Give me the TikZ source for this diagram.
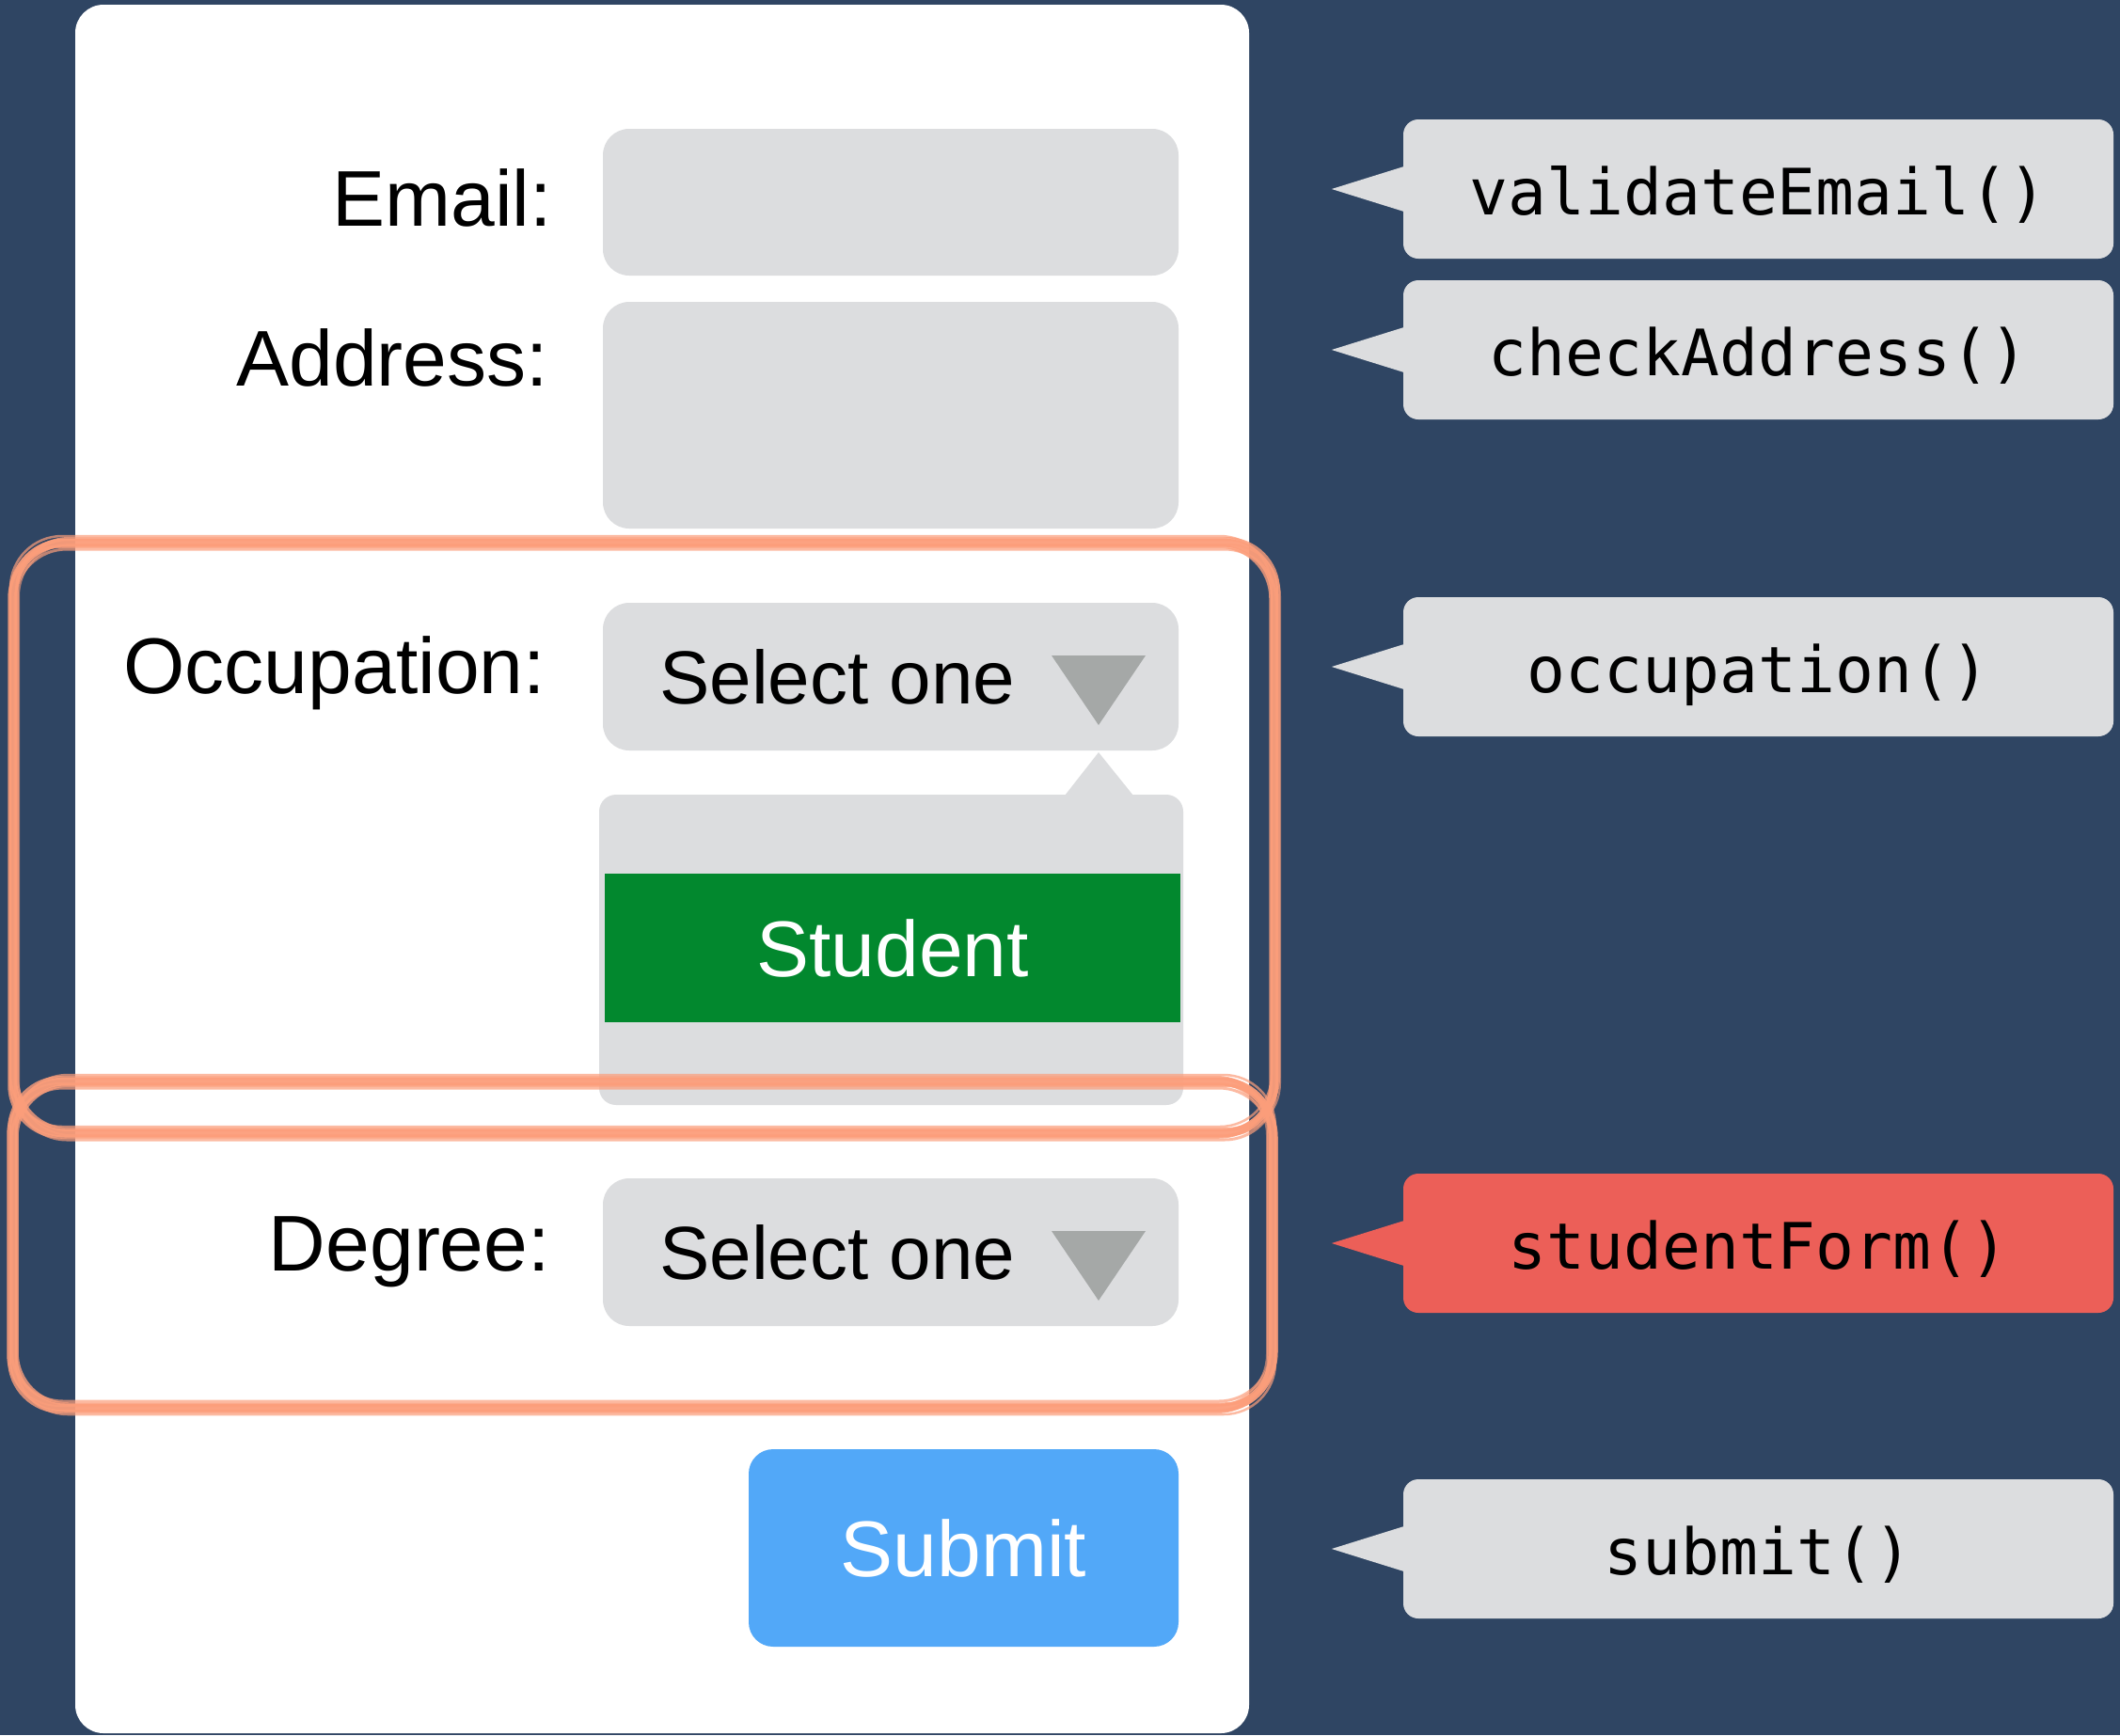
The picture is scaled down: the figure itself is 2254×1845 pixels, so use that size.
\documentclass[tikz,border=0pt]{standalone}
\usepackage{fontspec}
\usetikzlibrary{calc}
\setmainfont{Liberation Sans}
\newfontfamily\codefont{DejaVu Sans Mono}
\definecolor{navy}{HTML}{2F4563}
\definecolor{fieldgray}{HTML}{DCDDDF}
\definecolor{arrowgray}{HTML}{A5A8A7}
\definecolor{pickgreen}{HTML}{02882E}
\definecolor{btnblue}{HTML}{52A8F8}
\definecolor{tagred}{HTML}{EC5F58}
\definecolor{sketch}{HTML}{FC9E7B}
\begin{document}
\begin{tikzpicture}[x=1pt,y=-1pt,
  field/.style={fill=fieldgray, rounded corners=28pt, inner sep=0pt, minimum width=612pt},
  formlabel/.style={anchor=base east, inner sep=0pt, font=\fontsize{84}{100}\selectfont},
  fieldtext/.style={anchor=base west, inner sep=0pt, font=\fontsize{80}{100}\selectfont},
  tagbox/.style={fill=fieldgray, rounded corners=16pt, inner sep=0pt,
    minimum width=755pt, minimum height=148pt, text height=54pt, text depth=0pt,
    font=\codefont\fontsize{68}{80}\selectfont},
  sketchline/.style={draw=sketch, rounded corners=55pt, line cap=round}]

% page and background
\useasboundingbox (0,0) rectangle (2254,1845);
\fill[navy] (0,0) rectangle (2254,1845);

% form panel
\node[fill=white, rounded corners=30pt, inner sep=0pt, minimum width=1248pt,
  minimum height=1838pt] (panel) at (704,924) {};

% labels
\node[formlabel] (lemail) at (587,240) {Email:};
\node[formlabel] (laddr) at (583,410) {Address:};
\node[formlabel] (locc) at (580,737) {Occupation:};
\node[formlabel] (ldeg) at (585,1351) {Degree:};

% input fields
\node[field, minimum height=156pt] (email) at (947,215) {};
\node[field, minimum height=241pt] (addr) at (947,441.5) {};
\node[field, minimum height=157pt] (occ) at (947,719.5) {};
\node[field, minimum height=157pt] (deg) at (947,1331.5) {};

% dropdown texts and arrows
\node[fieldtext] (occtext) at (701,748) {Select one};
\node[fieldtext] (degtext) at (701,1360) {Select one};
\fill[arrowgray] (1118,697) -- (1218,697) -- (1168,771) -- cycle;
\fill[arrowgray] (1118,1309) -- (1218,1309) -- (1168,1383) -- cycle;

% open occupation list
\node[fill=fieldgray, rounded corners=18pt, inner sep=0pt, minimum width=621pt,
  minimum height=330pt] (popup) at (947.5,1010) {};
\fill[fieldgray] (1132,846) -- (1168,800) -- (1205,846) -- cycle;
\node[fill=pickgreen, inner sep=0pt, minimum width=612pt, minimum height=158pt]
  (student) at (949,1008) {};
\node[anchor=base, inner sep=0pt, text=white, font=\fontsize{84}{100}\selectfont]
  (studenttext) at (949,1038) {Student};

% submit button
\node[fill=btnblue, rounded corners=26pt, inner sep=0pt, minimum width=457pt,
  minimum height=210pt] (submit) at (1024.5,1646) {};
\node[anchor=base, inner sep=0pt, text=white, font=\fontsize{84}{100}\selectfont]
  (submittext) at (1024.5,1676) {Submit};

% hand-drawn group outlines, built from several loose brush strokes
\foreach \dx/\dy/\w/\o in {0/0/9/0.95, 4/-4/4/0.8, -4/4/3.5/0.8, 2/7/3/0.7,
    -3/-7/2.5/0.7, 6/2/2/0.6}{
  \draw[sketchline, line width=\w pt, opacity=\o]
    (14+\dx,577+\dy) rectangle (1355+\dx,1205+\dy);
  \draw[sketchline, line width=\w pt, opacity=\o]
    (14-\dx,1150+\dy) rectangle (1353-\dx,1497-\dy);
}

% callout tags
\node[tagbox] (t1) at (1869.5,201) {validateEmail()};
\node[tagbox] (t2) at (1869.5,372) {checkAddress()};
\node[tagbox] (t3) at (1869.5,709) {occupation()};
\node[tagbox, fill=tagred] (t4) at (1869.5,1322) {studentForm()};
\node[tagbox] (t5) at (1869.5,1647) {submit()};
\foreach \t/\c in {t1/fieldgray, t2/fieldgray, t3/fieldgray, t4/tagred, t5/fieldgray}{
  \fill[\c] ($(\t.west)+(1,-24)$) -- ($(\t.west)+(-76,0)$) -- ($(\t.west)+(1,24)$) -- cycle;
}
\end{tikzpicture}
\end{document}
